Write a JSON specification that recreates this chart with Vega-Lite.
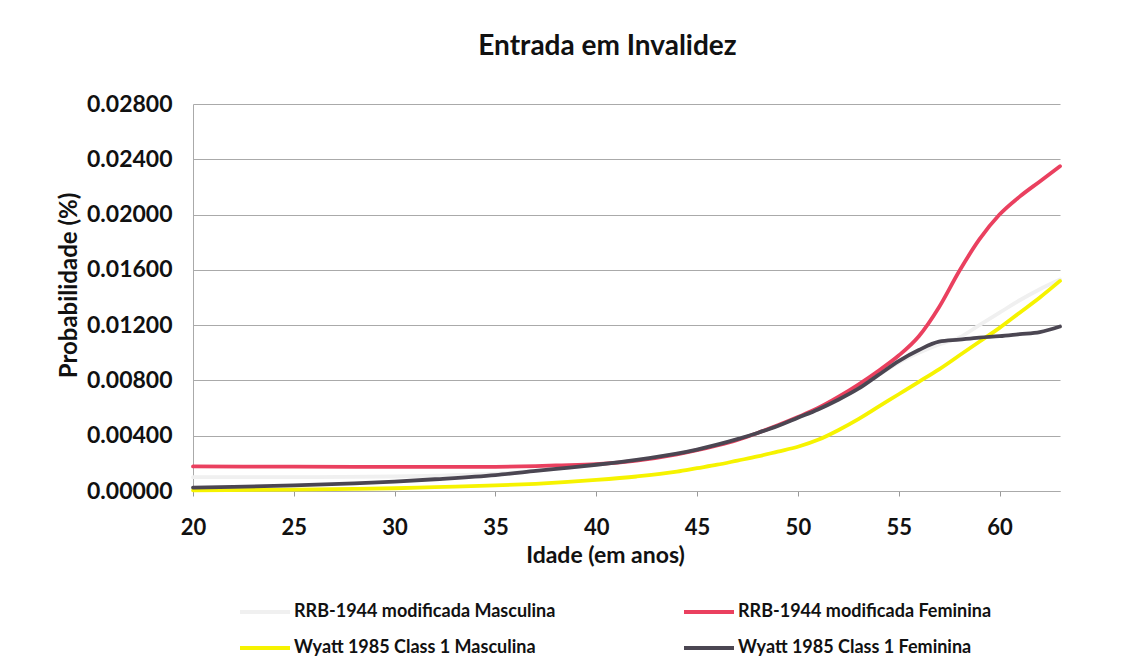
{
  "$schema": "https://vega.github.io/schema/vega-lite/v6.json",
  "autosize": {"type": "none"},
  "width": 867,
  "height": 387,
  "padding": {"left": 193, "top": 104, "right": 81, "bottom": 169},
  "background": "white",
  "title": {
    "text": "Entrada em Invalidez",
    "font": "Lato",
    "fontSize": 28,
    "fontWeight": "bold",
    "color": "#111111",
    "anchor": "middle",
    "frame": "group",
    "dx": -19,
    "offset": 32
  },
  "config": {
    "view": {"stroke": null},
    "font": "Lato"
  },
  "data": {
    "values": [
      {"serie": "RRB-1944 modificada Masculina", "idade": 20, "p": 0.00100},
      {"serie": "RRB-1944 modificada Masculina", "idade": 25, "p": 0.00100},
      {"serie": "RRB-1944 modificada Masculina", "idade": 30, "p": 0.00105},
      {"serie": "RRB-1944 modificada Masculina", "idade": 35, "p": 0.00125},
      {"serie": "RRB-1944 modificada Masculina", "idade": 38, "p": 0.00160},
      {"serie": "RRB-1944 modificada Masculina", "idade": 40, "p": 0.00190},
      {"serie": "RRB-1944 modificada Masculina", "idade": 42, "p": 0.00225},
      {"serie": "RRB-1944 modificada Masculina", "idade": 44, "p": 0.00270},
      {"serie": "RRB-1944 modificada Masculina", "idade": 46, "p": 0.00335},
      {"serie": "RRB-1944 modificada Masculina", "idade": 48, "p": 0.00420},
      {"serie": "RRB-1944 modificada Masculina", "idade": 50, "p": 0.00530},
      {"serie": "RRB-1944 modificada Masculina", "idade": 52, "p": 0.00660},
      {"serie": "RRB-1944 modificada Masculina", "idade": 54, "p": 0.00840},
      {"serie": "RRB-1944 modificada Masculina", "idade": 55, "p": 0.00930},
      {"serie": "RRB-1944 modificada Masculina", "idade": 56, "p": 0.01000},
      {"serie": "RRB-1944 modificada Masculina", "idade": 57, "p": 0.01060},
      {"serie": "RRB-1944 modificada Masculina", "idade": 58, "p": 0.01110},
      {"serie": "RRB-1944 modificada Masculina", "idade": 59, "p": 0.01200},
      {"serie": "RRB-1944 modificada Masculina", "idade": 60, "p": 0.01290},
      {"serie": "RRB-1944 modificada Masculina", "idade": 61, "p": 0.01380},
      {"serie": "RRB-1944 modificada Masculina", "idade": 62, "p": 0.01460},
      {"serie": "RRB-1944 modificada Masculina", "idade": 63, "p": 0.01530},

      {"serie": "RRB-1944 modificada Feminina", "idade": 20, "p": 0.00178},
      {"serie": "RRB-1944 modificada Feminina", "idade": 25, "p": 0.00176},
      {"serie": "RRB-1944 modificada Feminina", "idade": 30, "p": 0.00174},
      {"serie": "RRB-1944 modificada Feminina", "idade": 35, "p": 0.00175},
      {"serie": "RRB-1944 modificada Feminina", "idade": 37, "p": 0.00180},
      {"serie": "RRB-1944 modificada Feminina", "idade": 38, "p": 0.00185},
      {"serie": "RRB-1944 modificada Feminina", "idade": 40, "p": 0.00195},
      {"serie": "RRB-1944 modificada Feminina", "idade": 42, "p": 0.00220},
      {"serie": "RRB-1944 modificada Feminina", "idade": 44, "p": 0.00265},
      {"serie": "RRB-1944 modificada Feminina", "idade": 45, "p": 0.00295},
      {"serie": "RRB-1944 modificada Feminina", "idade": 46, "p": 0.00330},
      {"serie": "RRB-1944 modificada Feminina", "idade": 47, "p": 0.00370},
      {"serie": "RRB-1944 modificada Feminina", "idade": 48, "p": 0.00420},
      {"serie": "RRB-1944 modificada Feminina", "idade": 49, "p": 0.00475},
      {"serie": "RRB-1944 modificada Feminina", "idade": 50, "p": 0.00535},
      {"serie": "RRB-1944 modificada Feminina", "idade": 51, "p": 0.00600},
      {"serie": "RRB-1944 modificada Feminina", "idade": 52, "p": 0.00680},
      {"serie": "RRB-1944 modificada Feminina", "idade": 53, "p": 0.00770},
      {"serie": "RRB-1944 modificada Feminina", "idade": 54, "p": 0.00870},
      {"serie": "RRB-1944 modificada Feminina", "idade": 55, "p": 0.00980},
      {"serie": "RRB-1944 modificada Feminina", "idade": 56, "p": 0.01120},
      {"serie": "RRB-1944 modificada Feminina", "idade": 57, "p": 0.01330},
      {"serie": "RRB-1944 modificada Feminina", "idade": 58, "p": 0.01590},
      {"serie": "RRB-1944 modificada Feminina", "idade": 59, "p": 0.01820},
      {"serie": "RRB-1944 modificada Feminina", "idade": 60, "p": 0.02000},
      {"serie": "RRB-1944 modificada Feminina", "idade": 61, "p": 0.02130},
      {"serie": "RRB-1944 modificada Feminina", "idade": 62, "p": 0.02240},
      {"serie": "RRB-1944 modificada Feminina", "idade": 63, "p": 0.02350},

      {"serie": "Wyatt 1985 Class 1 Masculina", "idade": 20, "p": 0.00005},
      {"serie": "Wyatt 1985 Class 1 Masculina", "idade": 25, "p": 0.00010},
      {"serie": "Wyatt 1985 Class 1 Masculina", "idade": 28, "p": 0.00015},
      {"serie": "Wyatt 1985 Class 1 Masculina", "idade": 30, "p": 0.00020},
      {"serie": "Wyatt 1985 Class 1 Masculina", "idade": 32, "p": 0.00028},
      {"serie": "Wyatt 1985 Class 1 Masculina", "idade": 35, "p": 0.00040},
      {"serie": "Wyatt 1985 Class 1 Masculina", "idade": 37, "p": 0.00052},
      {"serie": "Wyatt 1985 Class 1 Masculina", "idade": 40, "p": 0.00080},
      {"serie": "Wyatt 1985 Class 1 Masculina", "idade": 42, "p": 0.00105},
      {"serie": "Wyatt 1985 Class 1 Masculina", "idade": 44, "p": 0.00140},
      {"serie": "Wyatt 1985 Class 1 Masculina", "idade": 45, "p": 0.00165},
      {"serie": "Wyatt 1985 Class 1 Masculina", "idade": 46, "p": 0.00190},
      {"serie": "Wyatt 1985 Class 1 Masculina", "idade": 47, "p": 0.00220},
      {"serie": "Wyatt 1985 Class 1 Masculina", "idade": 48, "p": 0.00250},
      {"serie": "Wyatt 1985 Class 1 Masculina", "idade": 49, "p": 0.00285},
      {"serie": "Wyatt 1985 Class 1 Masculina", "idade": 50, "p": 0.00320},
      {"serie": "Wyatt 1985 Class 1 Masculina", "idade": 51, "p": 0.00370},
      {"serie": "Wyatt 1985 Class 1 Masculina", "idade": 52, "p": 0.00440},
      {"serie": "Wyatt 1985 Class 1 Masculina", "idade": 53, "p": 0.00520},
      {"serie": "Wyatt 1985 Class 1 Masculina", "idade": 54, "p": 0.00610},
      {"serie": "Wyatt 1985 Class 1 Masculina", "idade": 55, "p": 0.00700},
      {"serie": "Wyatt 1985 Class 1 Masculina", "idade": 56, "p": 0.00790},
      {"serie": "Wyatt 1985 Class 1 Masculina", "idade": 57, "p": 0.00880},
      {"serie": "Wyatt 1985 Class 1 Masculina", "idade": 58, "p": 0.00980},
      {"serie": "Wyatt 1985 Class 1 Masculina", "idade": 59, "p": 0.01080},
      {"serie": "Wyatt 1985 Class 1 Masculina", "idade": 60, "p": 0.01180},
      {"serie": "Wyatt 1985 Class 1 Masculina", "idade": 61, "p": 0.01290},
      {"serie": "Wyatt 1985 Class 1 Masculina", "idade": 62, "p": 0.01400},
      {"serie": "Wyatt 1985 Class 1 Masculina", "idade": 63, "p": 0.01520},

      {"serie": "Wyatt 1985 Class 1 Feminina", "idade": 20, "p": 0.00025},
      {"serie": "Wyatt 1985 Class 1 Feminina", "idade": 22, "p": 0.00030},
      {"serie": "Wyatt 1985 Class 1 Feminina", "idade": 25, "p": 0.00040},
      {"serie": "Wyatt 1985 Class 1 Feminina", "idade": 28, "p": 0.00055},
      {"serie": "Wyatt 1985 Class 1 Feminina", "idade": 30, "p": 0.00068},
      {"serie": "Wyatt 1985 Class 1 Feminina", "idade": 32, "p": 0.00085},
      {"serie": "Wyatt 1985 Class 1 Feminina", "idade": 35, "p": 0.00115},
      {"serie": "Wyatt 1985 Class 1 Feminina", "idade": 37, "p": 0.00145},
      {"serie": "Wyatt 1985 Class 1 Feminina", "idade": 38, "p": 0.00160},
      {"serie": "Wyatt 1985 Class 1 Feminina", "idade": 40, "p": 0.00190},
      {"serie": "Wyatt 1985 Class 1 Feminina", "idade": 42, "p": 0.00225},
      {"serie": "Wyatt 1985 Class 1 Feminina", "idade": 44, "p": 0.00270},
      {"serie": "Wyatt 1985 Class 1 Feminina", "idade": 45, "p": 0.00300},
      {"serie": "Wyatt 1985 Class 1 Feminina", "idade": 46, "p": 0.00335},
      {"serie": "Wyatt 1985 Class 1 Feminina", "idade": 47, "p": 0.00375},
      {"serie": "Wyatt 1985 Class 1 Feminina", "idade": 48, "p": 0.00420},
      {"serie": "Wyatt 1985 Class 1 Feminina", "idade": 49, "p": 0.00470},
      {"serie": "Wyatt 1985 Class 1 Feminina", "idade": 50, "p": 0.00530},
      {"serie": "Wyatt 1985 Class 1 Feminina", "idade": 51, "p": 0.00590},
      {"serie": "Wyatt 1985 Class 1 Feminina", "idade": 52, "p": 0.00660},
      {"serie": "Wyatt 1985 Class 1 Feminina", "idade": 53, "p": 0.00740},
      {"serie": "Wyatt 1985 Class 1 Feminina", "idade": 54, "p": 0.00840},
      {"serie": "Wyatt 1985 Class 1 Feminina", "idade": 55, "p": 0.00940},
      {"serie": "Wyatt 1985 Class 1 Feminina", "idade": 56, "p": 0.01020},
      {"serie": "Wyatt 1985 Class 1 Feminina", "idade": 57, "p": 0.01080},
      {"serie": "Wyatt 1985 Class 1 Feminina", "idade": 58, "p": 0.01095},
      {"serie": "Wyatt 1985 Class 1 Feminina", "idade": 59, "p": 0.01110},
      {"serie": "Wyatt 1985 Class 1 Feminina", "idade": 60, "p": 0.01120},
      {"serie": "Wyatt 1985 Class 1 Feminina", "idade": 61, "p": 0.01135},
      {"serie": "Wyatt 1985 Class 1 Feminina", "idade": 62, "p": 0.01150},
      {"serie": "Wyatt 1985 Class 1 Feminina", "idade": 63, "p": 0.01190}
    ]
  },
  "mark": {"type": "line", "interpolate": "monotone", "strokeWidth": 3.8, "strokeCap": "round"},
  "encoding": {
    "x": {
      "field": "idade",
      "type": "quantitative",
      "scale": {"domain": [20, 63], "nice": false, "zero": false},
      "axis": {
        "values": [20, 25, 30, 35, 40, 45, 50, 55, 60],
        "title": "Idade (em anos)",
        "titleFont": "Lato",
        "titleFontSize": 23,
        "titleFontWeight": "bold",
        "titleColor": "#111111",
        "titleX": 412,
        "titleY": 64,
        "titleAlign": "center",
        "titleBaseline": "middle",
        "labelFont": "Lato",
        "labelFontSize": 22,
        "labelFontWeight": "bold",
        "labelColor": "#111111",
        "labelPadding": 21,
        "labelFlush": false,
        "tickSize": 5,
        "tickColor": "#999999",
        "domainColor": "#aaaaaa",
        "grid": false
      }
    },
    "y": {
      "field": "p",
      "type": "quantitative",
      "scale": {"domain": [0, 0.028], "nice": false},
      "axis": {
        "values": [0, 0.004, 0.008, 0.012, 0.016, 0.02, 0.024, 0.028],
        "format": ".5f",
        "title": "Probabilidade (%)",
        "titleFont": "Lato",
        "titleFontSize": 24,
        "titleFontWeight": "bold",
        "titleColor": "#111111",
        "titleX": -124,
        "titleY": 181,
        "titleAlign": "center",
        "titleBaseline": "middle",
        "labelFont": "Lato",
        "labelFontSize": 23,
        "labelFontWeight": "bold",
        "labelColor": "#111111",
        "labelPadding": 21,
        "ticks": false,
        "domainColor": "#aaaaaa",
        "gridColor": "#aaaaaa",
        "gridWidth": 1
      }
    },
    "color": {
      "field": "serie",
      "type": "nominal",
      "sort": ["RRB-1944 modificada Masculina", "Wyatt 1985 Class 1 Masculina", "RRB-1944 modificada Feminina", "Wyatt 1985 Class 1 Feminina"],
      "scale": {
        "domain": ["RRB-1944 modificada Masculina", "Wyatt 1985 Class 1 Masculina", "RRB-1944 modificada Feminina", "Wyatt 1985 Class 1 Feminina"],
        "range": ["#f0f0f0", "#f6f300", "#ea405f", "#4b4652"]
      },
      "legend": {
        "title": null,
        "orient": "none",
        "legendX": 45,
        "legendY": 481,
        "columns": 2,
        "columnPadding": 120,
        "rowPadding": -14,
        "symbolType": "stroke",
        "symbolSize": 2500,
        "symbolStrokeWidth": 4,
        "labelOffset": 2,
        "labelFont": "Lato",
        "labelFontSize": 18,
        "labelFontWeight": "bold",
        "labelColor": "#111111",
        "labelLimit": 400
      }
    }
  }
}
